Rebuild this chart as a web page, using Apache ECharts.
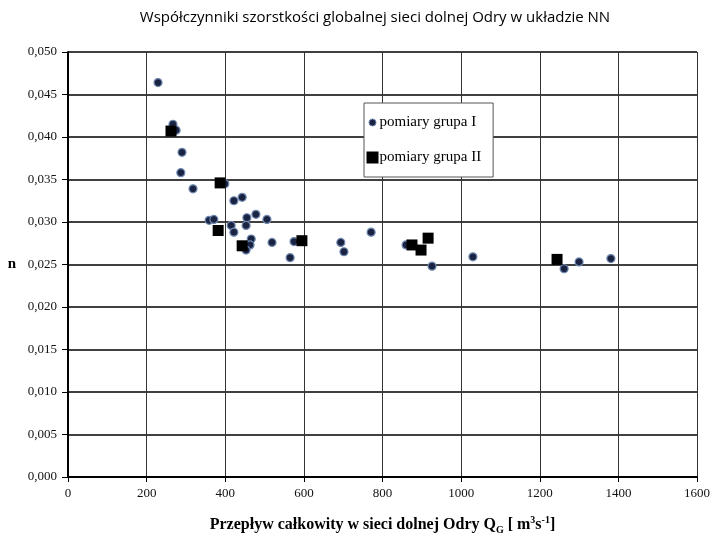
<!DOCTYPE html>
<html><head><meta charset="utf-8">
<script src="https://cdn.jsdelivr.net/npm/echarts@6/dist/echarts.min.js"></script>
<style>html,body{margin:0;padding:0;background:#fff}#c{width:720px;height:540px}</style>
</head><body><div id="c"></div>
<script>
const titleText = 'Współczynniki szorstkości globalnej sieci dolnej Odry w układzie NN';
const seriesNames = ['pomiary grupa I', 'pomiary grupa II'];
const groupIQ = [229,267,275,290,287,318,399,422,443,359,371,415,422,455,453,478,506,466,463,453,519,575,565,694,702,771,860,926,1030,1262,1300,1381];
const groupIn = [0.0464,0.0415,0.0408,0.0382,0.0358,0.0339,0.0345,0.0325,0.0329,0.0302,0.0303,0.0296,0.0288,0.0305,0.0296,0.0309,0.0303,0.0280,0.0273,0.0267,0.0276,0.0277,0.0258,0.0276,0.0265,0.0288,0.0273,0.0248,0.0259,0.0245,0.0253,0.0257];
const groupIIQ = [262,387,382,443,595,875,898,916,1244];
const groupIIn = [0.0407,0.0346,0.0290,0.0272,0.0278,0.0273,0.0267,0.0281,0.0256];
const xTicks = [0,200,400,600,800,1000,1200,1400,1600];
const yTicks = [0,0.005,0.010,0.015,0.020,0.025,0.030,0.035,0.040,0.045,0.050];

const chart = echarts.init(document.getElementById('c'));
const serif = '"Liberation Serif", "DejaVu Serif", serif';
const smallCircle = 'path://M0,0 M12,12 M9.5,6 A3.5,3.5,0,1,1,2.5,6 A3.5,3.5,0,1,1,9.5,6 Z';
chart.setOption({
  animation: false,
  backgroundColor: '#fff',
  title: {
    text: titleText, left: 370, top: 5, textAlign: 'center',
    textStyle: {fontFamily: '"Open Sans", "Noto Sans", sans-serif', fontSize: 15, fontWeight: 'normal', color: '#000'}
  },
  legend: {
    orient: 'vertical', left: 364, top: 103, itemGap: 20,
    padding: [12, 12, 12, 2],
    borderColor: '#555', borderWidth: 1, backgroundColor: '#fff',
    itemWidth: 12, itemHeight: 12,
    textStyle: {fontFamily: serif, fontSize: 15, color: '#000', padding: [0,0,0,-4]},
    data: [
      {name: seriesNames[0], icon: smallCircle, itemStyle: {color: '#1a2442', borderColor: '#7088b0', borderWidth: 1}},
      {name: seriesNames[1], icon: 'rect', itemStyle: {color: '#000'}}
    ]
  },
  grid: {left: 68, right: 23, top: 52, bottom: 59},
  xAxis: {
    type: 'value', min: xTicks[0], max: xTicks[xTicks.length-1], interval: 200,
    axisLine: {lineStyle: {color: '#000', width: 2}},
    axisTick: {show: true, length: 5, lineStyle: {color: '#000', width: 1}},
    axisLabel: {fontFamily: serif, fontSize: 13, color: '#111', margin: 10, formatter: v => String(v)},
    splitLine: {show: true, lineStyle: {color: '#333', width: 1}},
    name: '{b|Przepływ całkowity w sieci dolnej Odry Q}{sub|G}{b| [ m}{sup|3}{b|s}{sup|-1}{b|]}',
    nameLocation: 'middle', nameGap: 38,
    nameTextStyle: {
      rich: {
        b: {fontFamily: serif, fontSize: 16, fontWeight: 'bold', color: '#000', lineHeight: 20, verticalAlign: 'middle'},
        sub: {fontFamily: serif, fontSize: 10, fontWeight: 'bold', color: '#000', verticalAlign: 'bottom', lineHeight: 20, padding: [8,0,0,0]},
        sup: {fontFamily: serif, fontSize: 10, fontWeight: 'bold', color: '#000', verticalAlign: 'top', lineHeight: 20, padding: [0,0,6,0]}
      }
    }
  },
  yAxis: {
    type: 'value', min: yTicks[0], max: yTicks[yTicks.length-1], interval: 0.005,
    axisLine: {show: true, lineStyle: {color: '#000', width: 2}},
    axisTick: {show: true, length: 6, lineStyle: {color: '#000', width: 1}},
    axisLabel: {fontFamily: serif, fontSize: 13, color: '#111', margin: 11,
      formatter: v => v.toFixed(3).replace('.', ',')},
    splitLine: {show: true, lineStyle: {color: '#000', width: 1.5}},
    name: 'n', nameLocation: 'middle', nameRotate: 0, nameGap: 52,
    nameTextStyle: {fontFamily: serif, fontSize: 15, fontWeight: 'bold', color: '#000'}
  },
  series: [
    {
      name: seriesNames[0], type: 'scatter', symbol: 'circle', symbolSize: 8, z: 3,
      itemStyle: {color: '#1a2442', borderColor: '#7088b0', borderWidth: 1.2, opacity: 1},
      data: groupIQ.map((q, i) => [q, groupIn[i]])
    },
    {
      name: seriesNames[1], type: 'scatter', symbol: 'rect', symbolSize: 11, z: 4,
      itemStyle: {color: '#000', opacity: 1},
      data: groupIIQ.map((q, i) => [q, groupIIn[i]])
    }
  ]
});
</script></body></html>
